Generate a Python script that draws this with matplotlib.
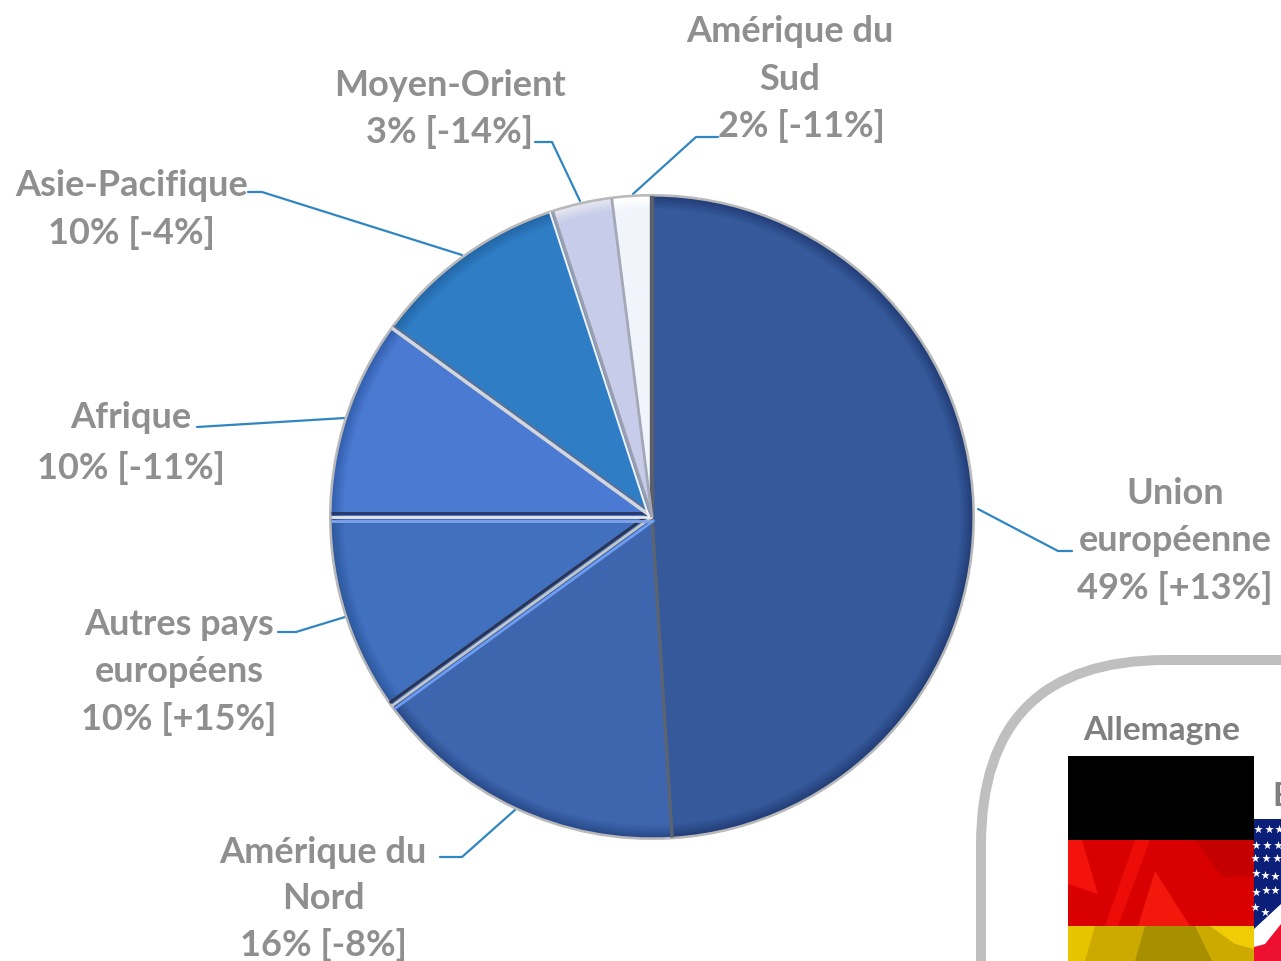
import numpy as np
import matplotlib
matplotlib.use("Agg")
import matplotlib.pyplot as plt
from matplotlib.colors import to_rgb
from matplotlib.patches import FancyBboxPatch, Rectangle, Polygon

W, H = 1281, 962

# data, clockwise from 12 o'clock
regions = ["Union\neuropéenne\n49% [+13%]", "Amérique du\nNord\n16% [-8%]",
           "Autres pays\neuropéens\n10% [+15%]", "Afrique\n10% [-11%]",
           "Asie-Pacifique\n10% [-4%]", "Moyen-Orient\n3% [-14%]",
           "Amérique du\nSud\n2% [-11%]"]
shares = [49, 16, 10, 10, 10, 3, 2]
colors = ["#35599b", "#3d66ae", "#4170bf", "#4b7ad2", "#2f7dc5", "#c6cce9", "#f1f5fb"]
rims = ["#24407a", "#2a4c8c", "#2f5aa0", "#3461b0", "#2468a8", "#e2e4ef", "#ffffff"]

# label centre x, first line y
label_pos = [(1175, 494), (323, 853), (179, 625), (131, 418), (132, 185), (450, 85), (790, 32)]
line_steps = [47, 46, 47, 50, 48, 47, 47]
last_line_shift = [0, 0, 0, 0, 0, 0, 11]
leaders = [[(978, 510), (1058, 552), (1072, 552)],
           [(516, 810), (462, 858), (440, 858)],
           [(345, 618), (296, 633), (278, 633)],
           [(345, 419), (197, 428)],
           [(462, 256), (262, 193), (248, 193)],
           [(580, 202), (552, 143), (535, 143)],
           [(633, 195), (696, 138), (718, 138)]]

flag_bands = ["#000000", "#d80000", "#cdaa00"]
flag_names = ["Allemagne", "E"]

plt.rcParams['font.family'] = ['Lato', 'DejaVu Sans']
fig = plt.figure(figsize=(W / 100, H / 100), dpi=100)

# overlay in pixel coordinates
ax = fig.add_axes([0, 0, 1, 1])
ax.set_xlim(0, W)
ax.set_ylim(H, 0)
ax.axis("off")

# pie, stacked a few times so the rim fades into the slice colour
cx, cy, r = 652, 518, 323
ax_pie = fig.add_axes([(cx - r) / W, (H - cy - r) / H, 2 * r / W, 2 * r / H])
ax_pie.patch.set_alpha(0)
ax_pie.pie(shares, colors=["#b9b9b9"] * 7, startangle=90, counterclock=False, radius=1.0)
steps = np.linspace(0, 1, 7)
for t, rad in zip(steps, np.linspace(0.992, 0.955, 7)):
    mix = [tuple((1 - t) * np.array(to_rgb(a)) + t * np.array(to_rgb(b))) for a, b in zip(rims, colors)]
    ax_pie.pie(shares, colors=mix, startangle=90, counterclock=False, radius=rad)

# bevels along the slice edges
ang = np.radians(90 - 3.6 * np.cumsum([0] + shares[:-1]))
bevels = {0: [("#5a5f6b", 3.2, 0.0)],
          1: [("#5b6470", 2.4, 0.0)],
          2: [("#2a3350", 2.0, -0.012), ("#c4c6c8", 2.0, 0.0), ("#6d9cf0", 2.0, 0.012)],
          3: [("#2a3560", 2.0, -0.012), ("#e6e8e4", 2.0, 0.0), ("#7fa3ea", 2.0, 0.012)],
          4: [("#d3d6dc", 2.6, 0.0), ("#5f6f90", 1.2, -0.009)],
          5: [("#9a9eae", 2.2, 0.0), ("#f0f1f7", 1.5, 0.009)],
          6: [("#a4a8b6", 2.0, 0.0)]}
for i, a in enumerate(ang):
    for col, lw, off in bevels[i]:
        nx, ny = np.cos(a + np.pi / 2), np.sin(a + np.pi / 2)
        ax_pie.plot([off * nx, 0.995 * np.cos(a) + off * nx], [off * ny, 0.995 * np.sin(a) + off * ny],
                    color=col, lw=lw, zorder=5, solid_capstyle="butt")
ax_pie.set_xlim(-1, 1)
ax_pie.set_ylim(-1, 1)
ax_pie.axis("off")

# leaders and labels
for pts, reg, pos, step, shift in zip(leaders, regions, label_pos, line_steps, last_line_shift):
    xs, ys = zip(*pts)
    ax.plot(xs, ys, color="#2f86c0", lw=1.6, solid_capstyle="round", zorder=3)
    lines = reg.split("\n")
    for i, line in enumerate(lines):
        x = pos[0] + (shift if i == len(lines) - 1 else 0)
        ax.text(x, pos[1] + i * step, line, ha="center", va="center",
                fontsize=26, fontweight="bold", color="#8f8f8f", zorder=4)

# frame of the inset, runs off the page
ax.add_patch(FancyBboxPatch((981, 661), 600, 600, boxstyle="round,pad=0,rounding_size=185",
                            fc="white", ec="#bfbfbf", lw=7.2, zorder=2))

ax.text(1162, 731, flag_names[0], ha="center", va="center", fontsize=24,
        fontweight="bold", color="#808080", zorder=5)
ax.text(1272, 797, flag_names[1], ha="left", va="center", fontsize=24,
        fontweight="bold", color="#808080", zorder=5)

# german flag
for c, y0, y1 in zip(flag_bands, [757, 841, 927], [841, 927, 962]):
    ax.add_patch(Rectangle((1068, y0), 186, y1 - y0, fc=c, ec="none", zorder=5))
folds = [([(1135, 841), (1150, 841), (1118, 927), (1105, 927)], "#ee0c08"),
         ([(1155, 872), (1190, 927), (1138, 927)], "#f2180c"),
         ([(1195, 841), (1254, 841), (1254, 878), (1222, 878)], "#c40000"),
         ([(1068, 841), (1082, 841), (1098, 895), (1068, 885)], "#f4120c"),
         ([(1145, 927), (1195, 927), (1212, 962), (1135, 962)], "#a88f00"),
         ([(1210, 927), (1254, 927), (1254, 950), (1235, 945)], "#f0cc06"),
         ([(1068, 927), (1095, 927), (1085, 962), (1068, 962)], "#e6c400")]
for pts, c in folds:
    ax.add_patch(Polygon(pts, fc=c, ec="none", zorder=5))

# us flag, only its left edge shows
ax.add_patch(Rectangle((1254, 820), 27, 142, fc="#0c1f78", ec="none", zorder=5))
ax.add_patch(Polygon([(1254, 930), (1281, 905), (1281, 962), (1254, 962)], fc="white", ec="none", zorder=6))
ax.add_patch(Polygon([(1254, 948), (1265, 945), (1281, 925), (1281, 962), (1254, 962)], fc="#ee1030", ec="none", zorder=7))
star_x = [1258, 1269, 1279, 1256, 1267, 1278, 1255, 1266, 1277, 1256, 1265, 1275, 1256, 1266, 1275, 1255, 1265]
star_y = [830, 830, 830, 846, 846, 846, 859, 859, 859, 874, 876, 877, 893, 891, 891, 908, 913]
ax.scatter(star_x, star_y, marker="*", s=42, color="white", lw=0, zorder=8)

fig.savefig("out.png", dpi=100)
